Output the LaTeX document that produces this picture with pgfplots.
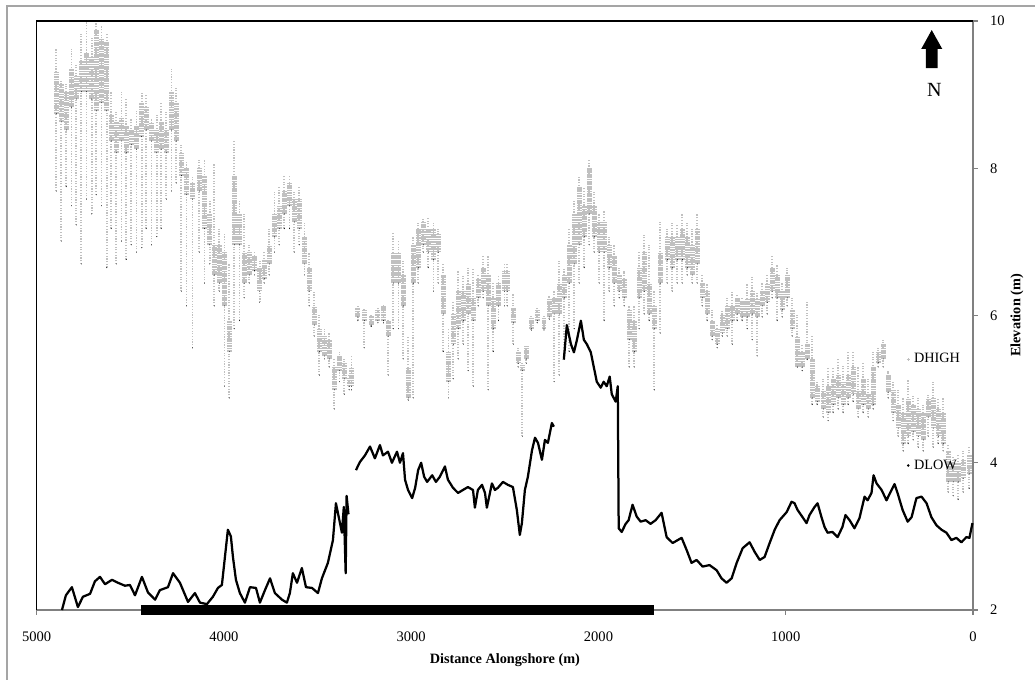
\documentclass[border=0pt]{standalone}
\usepackage{pgfplots}
\pgfplotsset{compat=1.18}
\usepackage{pgfplotstable}
\usepackage{fontspec}
\setmainfont{Liberation Serif}
\definecolor{dhigh}{RGB}{192,192,192}
\definecolor{axisgray}{RGB}{128,128,128}
\definecolor{framegray}{RGB}{165,165,165}

\pgfplotstableread{
x lo clo chi hi
4895 7.69 8.74 9.31 9.62
4868 7.01 8.63 9.15 9.20
4841 7.75 8.52 9.04 9.15
4814 7.49 8.83 9.35 9.62
4788 7.23 8.94 9.26 9.40
4761 6.70 9.04 9.46 9.83
4734 7.58 9.04 9.57 9.98
4707 7.38 8.94 9.51 9.77
4681 7.64 8.78 9.88 9.98
4654 7.49 8.89 9.77 9.93
4627 6.65 8.78 9.72 9.83
4601 7.18 8.37 8.73 9.04
4574 6.70 8.21 8.63 8.78
4547 7.01 8.37 8.68 9.04
4521 6.76 8.21 8.58 8.94
4494 6.96 8.32 8.52 8.68
4467 6.86 8.26 8.58 8.78
4440 6.92 8.43 8.89 9.04
4414 7.18 8.52 8.83 9.00
4387 6.96 8.37 8.63 8.68
4360 7.07 8.21 8.52 8.73
4334 7.18 8.26 8.63 8.89
4307 7.58 8.21 8.52 8.78
4280 7.69 8.52 9.04 9.35
4254 7.80 8.37 8.89 9.09
4227 6.33 7.90 8.21 8.32
4200 6.13 7.64 8.01 8.11
4168 5.56 7.58 7.80 7.90
4131 6.86 7.69 8.01 8.11
4104 6.44 7.18 7.90 8.11
4077 6.70 6.96 7.38 7.58
4051 6.13 6.55 6.96 8.06
4024 6.33 6.44 6.96 7.18
3997 5.04 6.13 6.86 7.12
3971 4.88 5.51 5.93 6.70
3944 5.82 6.96 7.90 8.37
3917 5.93 6.96 7.38 7.58
3891 6.24 6.44 6.86 7.38
3864 6.44 6.55 6.86 6.96
3837 6.55 6.61 6.81 6.86
3810 6.18 6.33 6.65 6.76
3784 6.44 6.50 6.76 6.86
3757 6.55 6.70 6.96 7.18
3730 6.86 7.07 7.38 7.69
3704 6.96 7.18 7.49 7.75
3677 7.18 7.38 7.69 7.90
3650 7.18 7.49 7.80 7.90
3624 6.86 7.27 7.58 7.69
3597 6.96 7.18 7.58 7.75
3570 6.55 6.70 7.07 7.27
3544 6.13 6.33 6.65 6.86
3517 5.72 5.87 6.13 6.33
3490 5.19 5.51 5.82 6.02
3463 5.41 5.45 5.72 5.82
3437 5.30 5.41 5.67 5.76
3410 4.73 4.99 5.30 5.41
3383 5.10 5.25 5.45 5.51
3357 4.93 5.14 5.36 5.41
3330 4.99 5.04 5.15 5.19
3319 4.99 5.04 5.30 5.45
3285 5.93 5.98 6.10 6.13
3250 5.56 5.93 6.08 6.10
3213 5.85 5.87 6.00 6.02
3178 5.90 5.93 6.08 6.10
3148 5.90 5.93 6.13 6.15
3122 5.19 5.72 5.93 5.95
3095 5.82 6.44 6.86 7.12
3068 5.82 6.44 6.86 7.01
3042 5.41 6.13 6.55 6.76
3015 4.85 4.88 5.30 5.72
2988 4.88 6.44 6.96 7.07
2962 6.44 6.65 7.18 7.27
2935 6.86 6.96 7.27 7.33
2908 6.65 6.86 7.18 7.33
2881 6.33 6.76 7.18 7.27
2855 6.44 6.86 7.12 7.18
2828 5.51 6.02 6.55 6.70
2801 4.88 5.10 5.51 5.82
2775 5.14 5.61 6.02 6.18
2748 5.41 5.82 6.33 6.61
2721 5.61 5.93 6.33 6.55
2695 5.25 6.02 6.44 6.65
2668 5.04 5.93 6.24 6.65
2641 6.13 6.24 6.50 6.55
2615 6.24 6.33 6.65 6.81
2588 4.99 6.13 6.55 6.81
2561 5.51 5.82 6.24 6.44
2534 5.93 6.13 6.44 6.55
2502 6.13 6.33 6.61 6.70
2486 6.13 6.33 6.61 6.70
2454 5.61 5.90 6.10 6.29
2428 5.30 5.35 5.50 5.56
2406 4.36 5.25 5.33 5.36
2385 5.35 5.41 5.58 5.60
2358 5.80 5.82 5.98 6.00
2326 5.90 5.93 6.08 6.10
2291 5.80 5.82 5.98 6.00
2262 5.95 5.98 6.24 6.26
2236 5.10 6.02 6.24 6.33
2209 5.19 6.02 6.44 6.76
2182 5.41 6.24 6.55 6.65
2155 5.51 6.44 6.96 7.18
2129 5.82 6.70 7.38 7.58
2102 6.44 6.96 7.75 7.90
2075 6.65 7.07 7.49 7.75
2049 6.96 7.38 8.01 8.11
2022 6.86 7.07 7.49 7.69
1995 6.44 6.86 7.27 7.38
1969 5.93 6.86 7.27 7.43
1942 6.33 6.65 6.96 7.07
1915 6.13 6.44 6.81 6.96
1888 6.24 6.33 6.55 6.65
1862 6.13 6.24 6.50 6.61
1835 5.30 5.67 6.08 6.13
1808 5.30 5.51 5.93 6.13
1782 5.82 6.24 6.65 6.86
1755 6.02 6.33 6.86 7.12
1728 5.93 6.02 6.44 6.96
1701 4.99 5.82 6.13 6.33
1670 5.76 6.44 6.86 7.27
1632 6.44 6.76 7.07 7.18
1606 6.33 6.65 7.07 7.27
1579 6.44 6.76 7.07 7.23
1552 6.44 6.76 7.18 7.38
1525 6.55 6.65 7.07 7.27
1499 6.44 6.55 6.96 7.18
1472 6.44 6.70 7.18 7.38
1445 6.13 6.24 6.44 6.55
1419 5.93 6.02 6.33 6.44
1392 5.67 5.72 5.93 6.08
1365 5.56 5.61 5.82 5.87
1338 5.72 5.76 6.02 6.08
1312 5.72 5.82 6.13 6.24
1285 5.61 5.93 6.13 6.33
1258 5.93 6.02 6.24 6.29
1232 5.93 5.98 6.20 6.26
1205 5.82 5.98 6.24 6.44
1178 5.67 6.02 6.33 6.55
1152 5.45 5.98 6.24 6.33
1125 5.98 6.13 6.33 6.44
1098 6.02 6.18 6.44 6.55
1072 6.24 6.33 6.65 6.81
1045 5.93 6.24 6.55 6.70
1018 5.98 6.08 6.33 6.44
992 6.13 6.24 6.55 6.65
965 5.72 5.82 6.08 6.24
938 5.30 5.30 5.72 6.02
911 5.25 5.30 5.51 5.61
885 5.40 5.41 5.61 6.18
858 4.79 4.88 5.41 5.72
831 4.79 4.83 5.04 5.10
799 4.62 4.73 4.99 5.14
773 4.57 4.68 5.04 5.30
746 4.68 4.79 5.14 5.30
719 4.73 4.88 5.19 5.41
693 4.68 4.79 5.10 5.33
666 4.79 4.88 5.19 5.51
639 4.83 4.93 5.30 5.51
613 4.62 4.73 4.99 5.30
586 4.68 4.79 5.14 5.36
559 4.62 4.73 4.93 5.14
532 4.73 4.79 5.30 5.51
506 5.30 5.36 5.51 5.56
479 5.30 5.41 5.61 5.67
452 4.88 4.96 5.19 5.25
426 4.57 4.68 4.99 5.10
399 4.36 4.47 4.79 4.99
372 4.16 4.26 4.68 4.88
346 4.26 4.36 4.88 5.14
319 4.31 4.42 4.79 4.93
292 4.21 4.36 4.73 4.88
265 4.16 4.31 4.68 4.79
239 4.36 4.62 4.88 4.93
212 4.21 4.47 4.88 5.10
185 4.26 4.36 4.73 4.88
159 4.16 4.26 4.68 4.88
132 3.60 3.74 4.16 4.26
105 3.55 3.74 4.00 4.10
79 3.50 3.74 4.00 4.10
52 3.60 3.79 4.05 4.16
20 3.65 3.85 4.10 4.21
}\dhightable

\begin{document}
\begin{tikzpicture}
\path[use as bounding box] (-24.47pt,-46pt) rectangle (665.53pt,406.67pt);
\draw[framegray, line width=1pt] (-19.8pt,-50pt) -- (-19.8pt,402.67pt) -- (670pt,402.67pt);
\begin{axis}[
  scale only axis,
  width=624.2pt, height=392.67pt,
  xmin=0, xmax=5000, ymin=2, ymax=10,
  x dir=reverse,
  xtick={0,1000,2000,3000,4000,5000},
  ytick={2,4,6,8,10},
  scaled x ticks=false, scaled y ticks=false,
  axis line style={draw=axisgray, line width=0.9pt},
  tick style={draw=axisgray, line width=0.9pt},
  tick align=outside,
  major tick length=3pt,
  xtick pos=left, ytick pos=right,
  xticklabel pos=left, yticklabel pos=right,
  xticklabel shift=8pt,
  yticklabel shift=4.8pt,
  ticklabel style={font=\fontsize{9.7}{11}\selectfont},
  /pgf/number format/assume math mode=true,
  /pgf/number format/1000 sep={},
  clip=false,
  unbounded coords=jump,
  xlabel={Distance Alongshore (m)},
  ylabel={Elevation (m)},
  every axis x label/.style={at={(axis description cs:0.5,-0.085)}, anchor=center, font=\bfseries\fontsize{9.5}{11}\selectfont},
  every axis y label/.style={at={(axis description cs:1.047,0.5)}, rotate=90, anchor=center, font=\bfseries\fontsize{9.5}{11}\selectfont},
  legend style={at={(axis description cs:0.9263,0.438)}, anchor=north west, draw=none, fill=none, inner sep=0pt, outer sep=0pt, row sep=61pt, font=\fontsize{9.5}{11}\selectfont, nodes={inner sep=1pt}},
  legend cell align=left,
]
% DHIGH sparse streaks
\addplot[only marks, mark=*, mark size=0.01pt, mark options={draw=none, fill=none}, forget plot,
  error bars/.cd, y dir=plus, y explicit, error mark=none,
  error bar style={draw=dhigh, line width=1.3pt, dash pattern=on 0.8pt off 1.0pt}]
  table[x=x, y=lo, y error expr=\thisrow{hi}-\thisrow{lo}] {\dhightable};
% DHIGH dense core
\addplot[only marks, mark=*, mark size=0.01pt, mark options={draw=none, fill=none}, forget plot,
  error bars/.cd, y dir=plus, y explicit, error mark=none,
  error bar style={draw=dhigh, line width=3.3pt, dash pattern=on 1.1pt off 0.5pt}]
  table[x=x, y=clo, y error expr=\thisrow{chi}-\thisrow{clo}] {\dhightable};
% DLOW
\addplot[black, line width=1.5pt, line join=round, forget plot] coordinates {
(4865,2.00) (4844,2.20) (4812,2.31) (4780,2.04) (4753,2.18) (4715,2.22) (4689,2.39) (4662,2.45) (4635,2.35) (4598,2.41)
(4566,2.37) (4529,2.33) (4502,2.34) (4475,2.20) (4438,2.45) (4406,2.24) (4368,2.14) (4342,2.27) (4299,2.31) (4272,2.50)
(4235,2.37) (4192,2.11) (4155,2.23) (4128,2.10) (4091,2.08) (4059,2.18) (4032,2.30) (4011,2.34) (3979,3.09) (3963,3.00)
(3952,2.72) (3936,2.41) (3915,2.23) (3888,2.10) (3861,2.31) (3829,2.30) (3808,2.10) (3781,2.27) (3754,2.43) (3728,2.23)
(3690,2.14) (3664,2.10) (3648,2.23) (3632,2.50) (3610,2.37) (3584,2.57) (3562,2.31) (3530,2.30) (3498,2.23) (3477,2.43)
(3445,2.64) (3418,2.95) (3402,3.45) (3386,3.25) (3370,3.05) (3360,3.40) (3350,2.50) (3345,3.55) (3335,3.30)
(3320,nan)
(3295,3.90) (3274,4.01) (3247,4.10) (3220,4.22) (3194,4.06) (3167,4.24) (3151,4.10) (3124,4.15) (3103,4.00) (3076,4.15)
(3060,4.00) (3044,4.13) (3033,3.77) (3017,3.63) (2995,3.52) (2979,3.66) (2963,3.90) (2947,4.00) (2931,3.81) (2915,3.74)
(2888,3.83) (2868,3.74) (2847,3.81) (2820,3.95) (2804,3.77) (2777,3.66) (2750,3.59) (2724,3.63) (2697,3.67) (2670,3.63)
(2660,3.39) (2644,3.63) (2622,3.70) (2606,3.59) (2596,3.39) (2569,3.72) (2553,3.63) (2537,3.66) (2510,3.74) (2484,3.70)
(2457,3.67) (2436,3.36) (2420,3.02) (2409,3.18) (2393,3.63) (2377,3.81) (2355,4.17) (2339,4.34) (2323,4.27) (2302,4.04)
(2286,4.31) (2270,4.27) (2249,4.54) (2238,4.49)
(2210,nan)
(2185,5.40) (2169,5.87) (2147,5.61) (2131,5.50) (2115,5.67) (2094,5.93) (2078,5.67) (2062,5.61) (2041,5.50) (2025,5.30)
(2009,5.10) (1988,5.02) (1972,5.10) (1956,5.04) (1940,5.17) (1929,4.93) (1908,4.83) (1897,5.04) (1892,3.11) (1876,3.06)
(1855,3.17) (1839,3.22) (1818,3.43) (1796,3.27) (1775,3.20) (1748,3.22) (1722,3.17) (1695,3.22) (1663,3.32) (1636,2.99)
(1604,2.91) (1556,2.98) (1530,2.82) (1503,2.64) (1476,2.68) (1444,2.59) (1407,2.61) (1369,2.54) (1343,2.43) (1316,2.37)
(1289,2.43) (1262,2.64) (1230,2.84) (1193,2.92) (1166,2.79) (1139,2.68) (1113,2.72) (1086,2.91) (1059,3.09) (1033,3.22)
(995,3.33) (969,3.47) (953,3.45) (937,3.36) (910,3.26) (889,3.18) (873,3.29) (846,3.40) (830,3.45) (809,3.26)
(793,3.13) (777,3.05) (750,3.06) (723,2.99) (697,3.13) (681,3.29) (659,3.22) (633,3.11) (606,3.25) (579,3.54)
(563,3.49) (542,3.59) (531,3.83) (515,3.72) (488,3.63) (462,3.49) (435,3.63) (419,3.71) (403,3.59) (376,3.36)
(349,3.20) (328,3.26) (302,3.52) (275,3.54) (248,3.45) (222,3.26) (195,3.15) (168,3.09) (142,3.05) (115,2.95)
(89,2.98) (62,2.92) (35,2.99) (19,2.98) (3,3.18)
};
% black bar along the axis
\addplot[black, line width=7.3pt, line cap=butt, forget plot] coordinates {(4443,2) (1704,2)};
% legend
\addlegendimage{legend image code/.code={\path[draw=none, fill=none] (0cm,0cm) -- (0.2cm,0cm); \draw[dhigh, line width=0.5pt] (0.1cm-1.1pt,0cm) -- (0.1cm+1.1pt,0cm) (0.1cm,-1.1pt) -- (0.1cm,1.1pt);}}
\addlegendentry{DHIGH}
\addlegendimage{legend image code/.code={\path[draw=none, fill=none] (0cm,0cm) -- (0.2cm,0cm); \fill[black] (0.1cm,0cm) circle (0.6pt);}}
\addlegendentry{DLOW}
% plot frame (top and left black)
\draw[black, line width=0.7pt] (axis description cs:0,0) -- (axis description cs:0,1) -- (axis description cs:1,1);
% north arrow
\fill[black] (axis description cs:0.9559,0.9847) -- (axis description cs:0.9672,0.9525) -- (axis description cs:0.9621,0.9525)
  -- (axis description cs:0.9621,0.9202) -- (axis description cs:0.9497,0.9202) -- (axis description cs:0.9497,0.9525)
  -- (axis description cs:0.9447,0.9525) -- cycle;
\node[font=\fontsize{13.4}{15}\selectfont, anchor=center] at (axis description cs:0.9587,0.8829) {N};
\end{axis}
\end{tikzpicture}
\end{document}
